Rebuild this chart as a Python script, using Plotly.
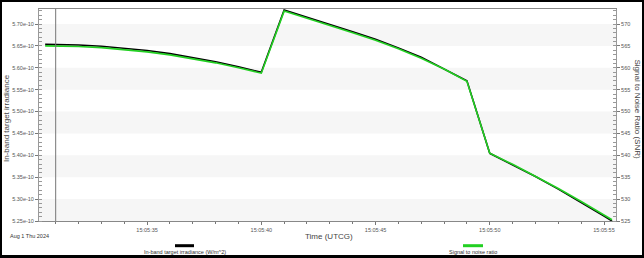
import pandas as pd
import plotly.graph_objects as go

# ---- data (seconds after 2024-08-01 15:05:00 UTCG) ----
seconds = [30.54, 31, 32, 33, 34, 35, 36, 37, 38, 39, 40,
           41, 42, 43, 44, 45, 46, 47, 48, 49,
           50, 51, 52, 53, 54, 55, 55.35]
irradiance_e10 = [5.6536, 5.6534, 5.6521, 5.6493, 5.6451, 5.6394, 5.6323, 5.6238, 5.6139, 5.6025, 5.5897,
                  5.7320, 5.7160, 5.6990, 5.6825, 5.6650, 5.6455, 5.6240, 5.5975, 5.5705,
                  5.4046, 5.3788, 5.3515, 5.3228, 5.2928, 5.2613, 5.2500]
snr = [565.01, 565.00, 564.88, 564.61, 564.20, 563.64, 562.95, 562.11, 561.13, 560.00, 558.77,
       572.95, 571.35, 569.66, 568.02, 566.28, 564.34, 562.20, 559.72, 556.92,
       540.50, 537.95, 535.25, 532.42, 529.45, 526.38, 525.30]

base_time = "2024-08-01 15:05:00"
cursor_seconds = 31.0
x_range_seconds = [30.27, 55.525]
y_left_range = [5.25e-10, 5.7343e-10]
y_right_range = [525, 573.43]
y_left_ticks = [5.25e-10, 5.30e-10, 5.35e-10, 5.40e-10, 5.45e-10, 5.50e-10,
                5.55e-10, 5.60e-10, 5.65e-10, 5.70e-10]
y_left_ticklabels = ["5.25e-10", "5.30e-10", "5.35e-10", "5.40e-10", "5.45e-10", "5.50e-10",
                     "5.55e-10", "5.60e-10", "5.65e-10", "5.70e-10"]

series_names = ["In-band target irradiance (W/m^2)", "Signal to noise ratio"]
date_label = "Aug 1 Thu 2024"
x_title = "Time (UTCG)"
y_left_title = "In-band target irradiance"
y_right_title = "Signal to Noise Ratio (SNR)"

# ---- build ----
t0 = pd.Timestamp(base_time)
times = [t0 + pd.to_timedelta(s, unit="s") for s in seconds]
irr = [v * 1e-10 for v in irradiance_e10]
xr = [str(t0 + pd.to_timedelta(s, unit="s")) for s in x_range_seconds]
cursor = str(t0 + pd.to_timedelta(cursor_seconds, unit="s"))

FONT = "Liberation Sans, Arial, sans-serif"
BLACK = "#000000"
GREEN = "#22d022"
TICKC = "#555555"

fig = go.Figure()
fig.add_trace(go.Scatter(x=times, y=irr, mode="lines", name=series_names[0],
                         line=dict(color=BLACK, width=1.6), yaxis="y"))
fig.add_trace(go.Scatter(x=times, y=snr, mode="lines", name=series_names[1],
                         line=dict(color=GREEN, width=1.6), yaxis="y2"))

# plot area in pixels: x 39..616, y 9..221
W, H = 644, 258
L, R, T, B = 39, 616, 9, 221
pw, ph = R - L, B - T
def px(x):
    return (x - L) / pw
def py(y):
    return (B - y) / ph

shapes = []
# alternating light bands
for i in range(0, len(y_left_ticks) - 1, 2):
    shapes.append(dict(type="rect", xref="paper", yref="y", x0=0, x1=1,
                       y0=y_left_ticks[i], y1=y_left_ticks[i + 1],
                       fillcolor="#f6f6f6", line=dict(width=0), layer="below"))
# time cursor
shapes.append(dict(type="line", xref="x", yref="paper", x0=cursor, x1=cursor, y0=0, y1=1,
                   line=dict(color="#777777", width=1), layer="above"))
# legend samples
shapes.append(dict(type="line", xref="paper", yref="paper", x0=px(175), x1=px(194),
                   y0=py(245.7), y1=py(245.7), line=dict(color=BLACK, width=3)))
shapes.append(dict(type="line", xref="paper", yref="paper", x0=px(463), x1=px(483),
                   y0=py(245.7), y1=py(245.7), line=dict(color=GREEN, width=3)))
# outer black frame
shapes.append(dict(type="rect", xref="paper", yref="paper",
                   x0=px(0.5), x1=px(643.5), y0=py(256.5), y1=py(0.5),
                   line=dict(color="#000000", width=3), fillcolor="rgba(0,0,0,0)", layer="above"))

small = dict(family=FONT, size=5.5, color="#333333")
annotations = [
    dict(text=date_label, xref="paper", yref="paper", x=px(8), y=py(235.7),
         xanchor="left", yanchor="middle", showarrow=False, font=small),
    dict(text=x_title, xref="paper", yref="paper", x=px(328.5), y=py(236.7),
         xanchor="center", yanchor="middle", showarrow=False,
         font=dict(family=FONT, size=8, color="#444444")),
    dict(text=y_left_title, xref="paper", yref="paper", x=px(6.5), y=py(118.5),
         xanchor="center", yanchor="middle", textangle=-90, showarrow=False,
         font=dict(family=FONT, size=8, color="#444444")),
    dict(text=y_right_title, xref="paper", yref="paper", x=px(637.5), y=py(109),
         xanchor="center", yanchor="middle", textangle=90, showarrow=False,
         font=dict(family=FONT, size=8, color="#444444")),
    dict(text=series_names[0], xref="paper", yref="paper", x=px(184.5), y=py(252),
         xanchor="center", yanchor="middle", showarrow=False, font=small),
    dict(text=series_names[1], xref="paper", yref="paper", x=px(473), y=py(252),
         xanchor="center", yanchor="middle", showarrow=False, font=small),
]

tickfont = dict(family=FONT, size=5.5, color=TICKC)

fig.update_layout(
    width=W, height=H,
    margin=dict(l=L, r=W - R, t=T, b=H - B, pad=0),
    paper_bgcolor="white", plot_bgcolor="white",
    showlegend=False,
    shapes=shapes, annotations=annotations,
    xaxis=dict(type="date", range=xr, tickformat="%H:%M:%S", dtick=5000,
               tick0=base_time, ticks="outside", ticklen=3, tickcolor="#777777",
               minor=dict(dtick=1000, ticks="outside", ticklen=2, tickcolor="#777777"),
               showline=True, linecolor="#888888", linewidth=1, mirror=True,
               showgrid=False, zeroline=False, tickfont=tickfont),
    yaxis=dict(range=y_left_range, tickmode="array", tickvals=y_left_ticks,
               ticktext=y_left_ticklabels,
               ticks="outside", ticklen=3, tickcolor="#777777",
               minor=dict(dtick=0.01e-10, tick0=5.25e-10, ticks="inside", ticklen=3,
                          tickcolor="#999999"),
               showline=True, linecolor="#999999", linewidth=1,
               showgrid=False, zeroline=False, tickfont=tickfont),
    yaxis2=dict(range=y_right_range, overlaying="y", side="right", dtick=5, tick0=525,
                ticks="outside", ticklen=3, tickcolor="#777777",
                minor=dict(dtick=1, tick0=525, ticks="inside", ticklen=3, tickcolor="#999999"),
                showline=True, linecolor="#999999", linewidth=1,
                showgrid=False, zeroline=False, tickfont=tickfont),
)

fig.write_html("out.html")
